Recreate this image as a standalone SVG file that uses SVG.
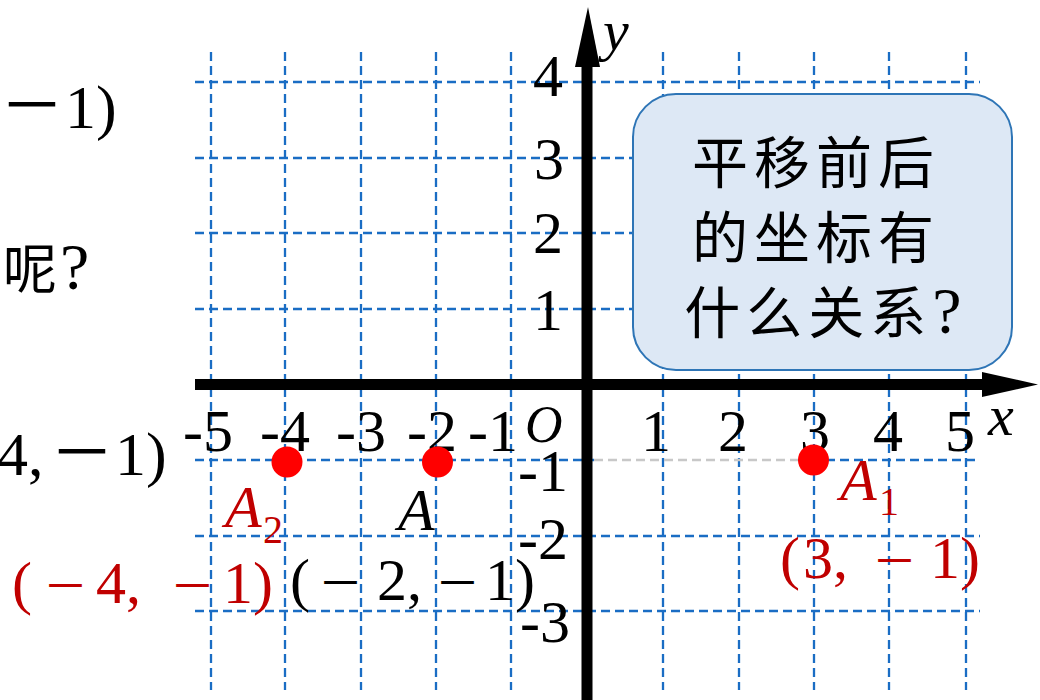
<svg xmlns="http://www.w3.org/2000/svg" width="1040" height="700" viewBox="0 0 1040 700">
<style>
.grid{stroke:#1A6DC4;stroke-width:2.3;stroke-dasharray:9 5;fill:none}
.num{font-family:"Liberation Serif","Times New Roman",serif;font-size:60px;fill:#000}
.it{font-family:"Liberation Serif","Times New Roman",serif;font-style:italic}
.cjk{font-family:"Noto Sans CJK SC",sans-serif}
.red{fill:#C00000}
.blk{fill:#000}
.coord{font-family:"Liberation Serif","Noto Sans CJK SC",serif;font-size:60px}
.mn{font-family:"Noto Sans CJK SC",sans-serif;font-size:45px}
.dot{fill:#FF0000}
</style>
<rect width="1040" height="700" fill="#fff"/>
<g id="grid">
<path class="grid" d="M211 52V690M285 52V690M361 52V690M436 52V690M511 52V690M663 52V690M739 52V690M814 52V690M889 52V690M966 52V690"/>
<path class="grid" d="M195 82H980M195 158H980M195 233H980M195 309H980M195 460H594M798 460H980M195 536H980M195 611H980"/>
<path class="grid" d="M594 460H798" style="stroke:#C8C8C8"/>
</g>
<g id="callout">
<rect x="633" y="94" width="379" height="276" rx="43" fill="#DDE8F5" stroke="#2E75B6" stroke-width="2"/>
<text font-size="56" text-anchor="middle" letter-spacing="6" style="font-family:'Liberation Serif','Noto Sans CJK SC',serif">
<tspan x="826" y="183">平移前后</tspan>
<tspan x="826" y="258">的坐标有</tspan>
<tspan x="826" y="333">什么关系<tspan font-size="66">?</tspan></tspan>
</text>
</g>
<g id="axes">
<line x1="195" y1="384.5" x2="984" y2="384.5" stroke="#000" stroke-width="11"/>
<polygon points="982,372 1038,384.5 982,397" fill="#000"/>
<line x1="587" y1="700" x2="587" y2="65" stroke="#000" stroke-width="11"/>
<polygon points="575,67 588,7 600,67" fill="#000"/>
<text class="it" x="603" y="50" font-size="58">y</text>
<text class="it" x="988" y="435" font-size="58">x</text>
<text class="it" x="525" y="442" font-size="52">O</text>
</g>
<g id="xticks" class="num" text-anchor="middle">
<text x="208" y="451">-5</text>
<text x="285" y="451">-4</text>
<text x="361" y="451">-3</text>
<text x="432" y="451">-2</text>
<text x="493" y="451">-1</text>
<text x="656" y="451">1</text>
<text x="733" y="451">2</text>
<text x="815" y="451">3</text>
<text x="888" y="451">4</text>
<text x="960" y="451">5</text>
</g>
<g id="yticks" class="num">
<text x="533" y="96">4</text>
<text x="534" y="179">3</text>
<text x="533" y="253">2</text>
<text x="533" y="330">1</text>
<text x="518" y="491">-1</text>
<text x="518" y="559">-2</text>
<text x="520" y="642">-3</text>
</g>
<g id="left-text" class="coord blk">
<text y="128" font-size="62"><tspan class="mn" style="font-size:64px" x="0">－</tspan><tspan x="65">1)</tspan></text>
<text y="289" style="font-size:54px"><tspan class="cjk" x="3">呢</tspan><tspan x="60" style="font-size:66px">?</tspan></text>
<text y="475" style="font-size:62px"><tspan x="-3">4,</tspan><tspan class="mn" style="font-size:64px" x="50">－</tspan><tspan x="115">1)</tspan></text>
</g>
<g id="point-A2">
<circle class="dot" cx="287" cy="462" r="15.5"/>
<text class="it red" x="225" y="527" font-size="60">A</text>
<text class="num red" x="263" y="543" style="font-size:40px">2</text>
<text class="coord red" y="603"><tspan x="12">(</tspan><tspan class="mn" x="43">－</tspan><tspan x="96">4,</tspan><tspan class="mn" x="170">－</tspan><tspan x="223">1)</tspan></text>
</g>
<g id="point-A">
<circle class="dot" cx="437.5" cy="462" r="15.5"/>
<text class="it blk" x="398" y="530" font-size="60">A</text>
<text class="coord blk" y="600"><tspan x="290">(</tspan><tspan class="mn" x="318">－</tspan><tspan x="377">2,</tspan><tspan class="mn" x="435">－</tspan><tspan x="485">1)</tspan></text>
</g>
<g id="point-A1">
<circle class="dot" cx="813.5" cy="460" r="15.5"/>
<text class="it red" x="840" y="500" font-size="60">A</text>
<text class="num red" x="879" y="515" style="font-size:40px">1</text>
<text class="coord red" y="578"><tspan x="780">(</tspan><tspan x="803">3,</tspan><tspan class="mn" x="872">－</tspan><tspan x="930">1)</tspan></text>
</g>
</svg>
